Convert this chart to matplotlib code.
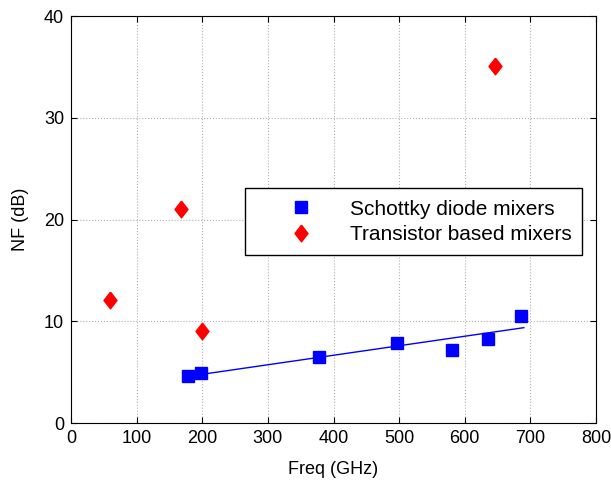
import numpy as np
import matplotlib
matplotlib.use('Agg')
import matplotlib.pyplot as plt

plt.rcParams['font.family'] = ['Liberation Sans', 'DejaVu Sans']
plt.rcParams['font.size'] = 13

# Schottky diode mixers
f_sch = [178, 198, 378, 497, 580, 635, 686]
nf_sch = [4.6, 4.9, 6.5, 7.9, 7.2, 8.3, 10.5]
# Transistor based mixers
f_tr = [59, 168, 200, 646]
nf_tr = [12.1, 21.0, 9.0, 35.1]

# linear fit drawn over this span
fit_span = [200, 690]

p = np.polyfit(f_sch, nf_sch, 1)
xf = np.array(fit_span)

diamond = [(0, 1), (0.78, 0), (0, -1), (-0.78, 0), (0, 1)]

fig = plt.figure(figsize=(6.11, 4.82), dpi=100)
ax = fig.add_axes([0.1162, 0.1224, 0.8593, 0.8444])

ax.plot(xf, np.polyval(p, xf), color='b', linewidth=1)
ax.plot(f_sch, nf_sch, 's', color='b', markersize=8.5, label='Schottky diode mixers')
ax.plot(f_tr, nf_tr, linestyle='none', marker=diamond, color='r', markersize=12,
        label='Transistor based mixers')

ax.set_xlim(0, 800)
ax.set_ylim(0, 40)
ax.set_xticks(np.arange(0, 801, 100))
ax.set_yticks(np.arange(0, 41, 10))
ax.grid(True, linestyle=':', color='#b0b0b0', linewidth=0.8)
ax.tick_params(direction='in', top=True, right=True, length=4, pad=5)
ax.set_xlabel('Freq (GHz)', labelpad=10)
ax.set_ylabel('NF (dB)', labelpad=11)

h = ax.get_legend_handles_labels()
leg = ax.legend(h[0], h[1], loc='upper left', bbox_to_anchor=(0.331, 0.577, 0.642, 0.0),
                mode='expand', fancybox=False, framealpha=1, edgecolor='k', fontsize=15,
                borderaxespad=0, borderpad=0.55, handlelength=4.3, handletextpad=0.2,
                labelspacing=0.3)
leg.get_frame().set_linewidth(1)

plt.savefig('out.png')
